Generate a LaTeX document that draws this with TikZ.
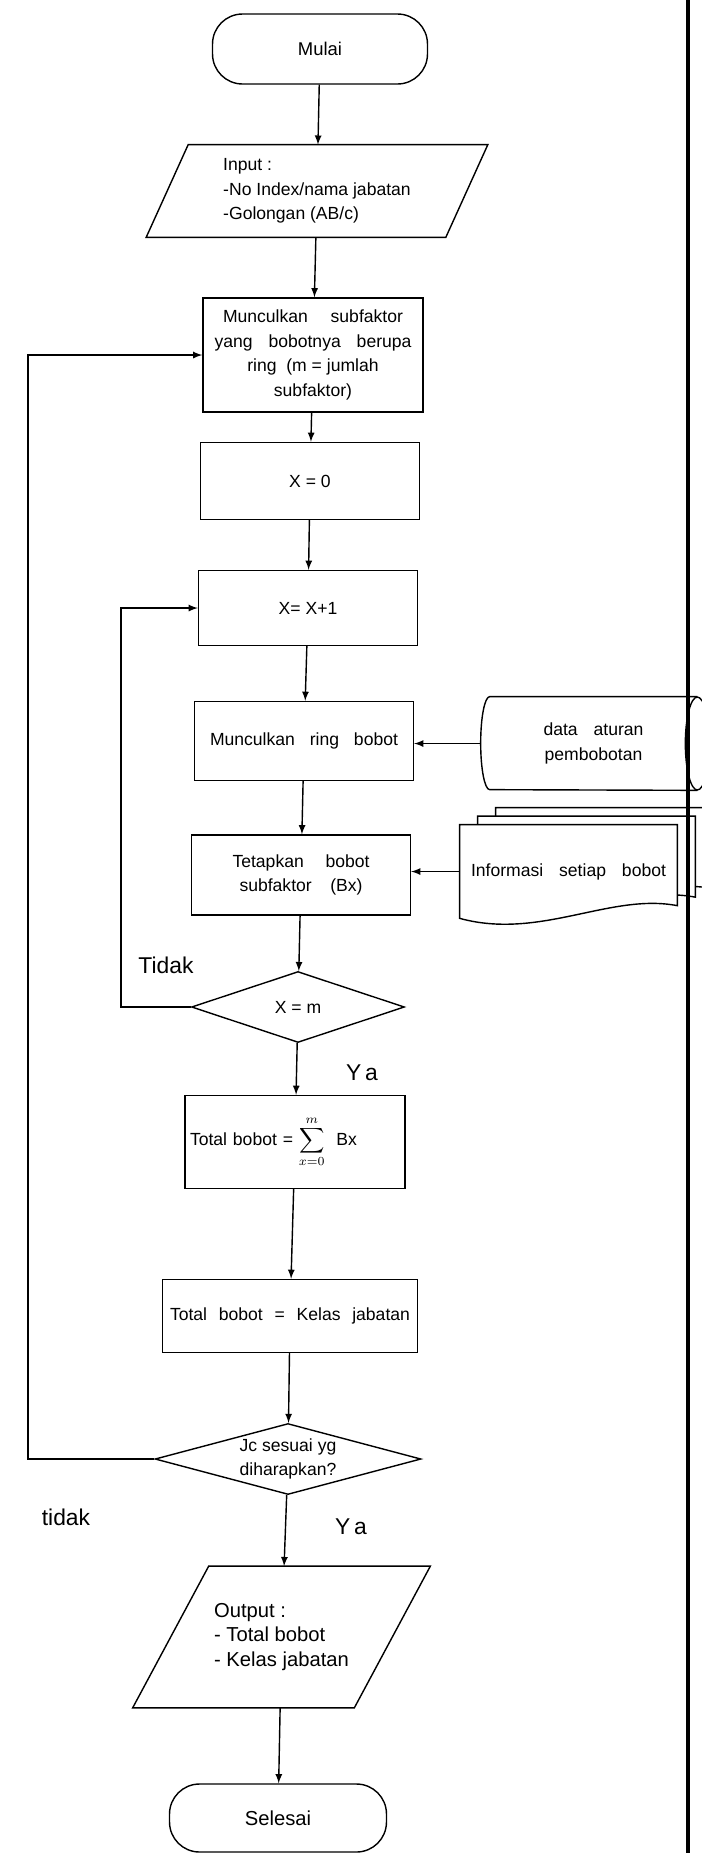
\documentclass[tikz,border=0pt]{standalone}
\usepackage{fontspec}
\setmainfont{Liberation Sans}
\usetikzlibrary{shapes.geometric,calc}

\begin{document}
\begin{tikzpicture}[
  x=0.02cm, y=-0.02cm, >=latex,
  every node/.style={font=\fontsize{10}{14}\selectfont},
  proses/.style={draw,thick,align=center,minimum width=4.38cm,minimum height=1.54cm,inner sep=2pt},
  terminal/.style={draw,thick,rounded corners=0.6cm,minimum width=4.3cm,minimum height=1.4cm},
  io/.style={align=left,inner sep=0pt},
  keputusan/.style={draw,thick,diamond,aspect=3.4,inner sep=0pt,align=center},
  ket/.style={font=\fontsize{13}{15}\selectfont},
  alur/.style={->,thick}
]
  \useasboundingbox (0,0) rectangle (702,1853);
  \clip (0,0) rectangle (702,1853);

  \node[terminal,font=\fontsize{10.5}{14}\selectfont] (mulai) at (320,49) {Mulai};
  \node[io,minimum width=5.98cm,minimum height=1.84cm] (input) at (317,191)
        {Input :\\-No Index/nama jabatan\\-Golongan (AB/c)};
  \node[proses,minimum width=4.4cm,minimum height=2.28cm] (muncul) at (313,355)
        {\makebox[3.6cm][s]{Munculkan subfaktor}\\
         \makebox[3.94cm][s]{yang bobotnya berupa}\\
         ring\ \ (m\ =\ jumlah\\ subfaktor)};
  \node[proses] (x0) at (310,481) {X = 0};
  \node[proses,minimum height=1.5cm] (xplus) at (308,608) {X= X+1};
  \node[proses,minimum height=1.58cm] (ring) at (304,741)
        {\makebox[3.76cm][s]{Munculkan ring bobot}};
  \node[proses,minimum height=1.6cm] (tetap) at (301,875)
        {\makebox[2.74cm][s]{Tetapkan bobot}\\ \makebox[2.46cm][s]{subfaktor (Bx)}};

  \node[minimum width=4.14cm,minimum height=1.86cm,inner sep=0pt,align=center] (aturan) at (593.5,743.5)
        {\makebox[2cm][s]{data aturan}\\pembobotan};
  \draw[thick] (aturan.north east) -- (aturan.north west)
    arc[start angle=90,end angle=270,x radius=0.18cm,y radius=0.93cm] -- (aturan.south east);
  \draw[thick] (aturan.east) ellipse[x radius=0.24cm,y radius=0.93cm];

  \node[minimum width=4.34cm,minimum height=1.86cm,inner sep=0pt] (info) at (568.5,871.5) {};
  \foreach \d in {2,1,0}{
    \draw[thick,fill=white]
      ($(info.north west)+(18*\d,-8.5*\d)$) -- ($(info.north east)+(18*\d,-8.5*\d)$)
      -- ++(0,81) .. controls +(-67,-13) and +(80,22) .. ($(info.south west)+(18*\d,-8.5*\d)$)
      -- cycle;
  }
  \node at (info) {\makebox[3.9cm][s]{Informasi setiap bobot}};

  \node[keputusan,minimum width=4.26cm,minimum height=1.42cm] (xm) at (298,1007) {X = m};
  \node[proses,minimum width=4.4cm,minimum height=1.86cm,align=left,text width=4.2cm,
        inner xsep=0.1cm] (total) at (295,1142)
        {Total bobot = $\displaystyle\sum_{x=0}^{m}$\ \ Bx};
  \node[proses,minimum width=5.1cm,minimum height=1.46cm] (kelas) at (290,1316)
        {\makebox[4.8cm][s]{Total bobot = Kelas jabatan}};
  \node[keputusan,minimum width=5.32cm,minimum height=1.42cm] (jc) at (288,1459)
        {Jc sesuai yg\\diharapkan?};
  \node[io,minimum width=4.42cm,minimum height=2.82cm,font=\fontsize{11.5}{14.2}\selectfont]
        (output) at (281.5,1637) {Output :\\- Total bobot\\- Kelas jabatan};
  \node[terminal,minimum width=4.34cm,minimum height=1.36cm,
        font=\fontsize{11.5}{14}\selectfont] (selesai) at (278,1818) {Selesai};

  \foreach \n/\s in {input/21,output/38}
    \draw[thick] ($(\n.north west)+(\s,0)$) -- ($(\n.north east)+(\s,0)$)
      -- ($(\n.south east)+(-\s,0)$) -- ($(\n.south west)+(-\s,0)$) -- cycle;

  \node[ket] (tidak1) at (166,965) {Tidak};
  \node[ket] (ya1) at (362,1073) {Y\,a};
  \node[ket] (tidak2) at (66,1517) {tidak};
  \node[ket] (ya2) at (351,1527) {Y\,a};

  \draw[alur] (mulai) -- (input);
  \draw[alur] (input) -- (muncul);
  \draw[alur] (muncul) -- (x0);
  \draw[alur] (x0) -- (xplus);
  \draw[alur] (xplus) -- (ring);
  \draw[alur] (ring) -- (tetap);
  \draw[alur] (tetap) -- (xm);
  \draw[alur] (xm) -- (total);
  \draw[alur] (total) -- (kelas);
  \draw[alur] (kelas) -- (jc);
  \draw[alur] (jc) -- (output);
  \draw[alur] (output) -- (selesai);
  \draw[alur] ([xshift=-0.18cm]aturan.west) -- (aturan.west -| ring.east);
  \draw[alur] (info.west) -- (info.west -| tetap.east);

  \coordinate (balikx) at (121,0);
  \coordinate (ulangx) at (28,0);
  \draw[alur] (xm.west) -| (balikx |- xplus.west) -- (xplus.west);
  \draw[alur] (jc.west) -| (ulangx |- muncul.west) -- (muncul.west);

  \draw[line width=0.08cm] (688,0) -- (688,1853);
\end{tikzpicture}
\end{document}
